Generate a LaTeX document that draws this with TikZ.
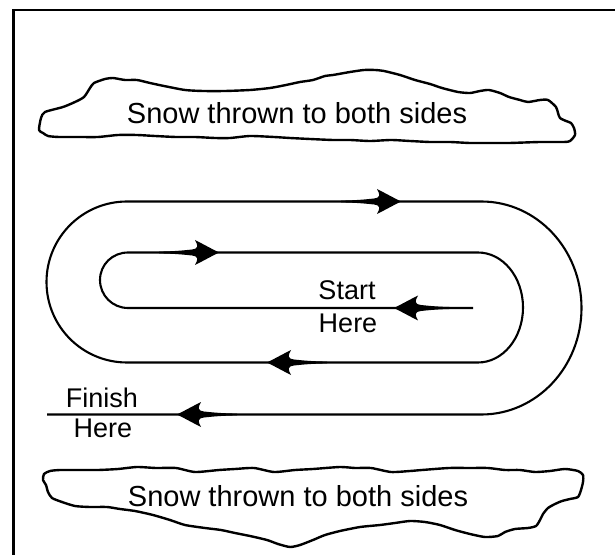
\documentclass[tikz,border=0pt]{standalone}
\usepackage{fontspec}
\setmainfont{Liberation Sans}
\begin{document}
\begin{tikzpicture}[x=0.5pt,y=-0.5pt,
  track/.style={line width=1.05pt, line join=round},
  frame/.style={line width=1.4pt},
  cloud/.style={line width=1.2pt, line join=round},
  lbl/.style={font=\fontsize{13.5}{15}\selectfont, anchor=base, inner sep=0pt},
  snowlbl/.style={font=\fontsize{14.5}{16}\selectfont, anchor=base, inner sep=0pt},
  barb/.pic={\fill (0,0) .. controls (-8,-4) and (-17,-9) .. (-24,-12.5)
      .. controls (-21,-7) and (-20,-4) .. (-27,-3)
      .. controls (-36,-2) and (-46,-1.1) .. (-60,-0.9) -- (-60,0.9)
      .. controls (-46,1.1) and (-36,2) .. (-27,3)
      .. controls (-20,4) and (-21,7) .. (-24,12.5)
      .. controls (-17,9) and (-8,4) .. cycle;}
]
\useasboundingbox (0,0) rectangle (615,555);
% frame
\draw[frame] (13.5,555) -- (13.5,10) -- (615,10);
% top cloud
\draw[cloud] plot[smooth cycle, tension=0.4] coordinates {
(39,130) (41,118) (45,112) (63,107) (75,102) (84,97) (90,88) (94,83) (105,79) (113,78)
(125,80) (137,80) (150,83) (164,86) (185,90) (203,91) (225,91) (250,90) (270,88) (286,85)
(300,82) (313,80) (325,76) (333,75) (350,72) (364,70) (375,70) (384,71) (400,75) (415,80)
(430,84) (442,88) (458,92) (470,93) (480,91) (489,90) (500,93) (509,97) (520,100) (528,102)
(540,100) (548,100) (556,107) (558,113) (560,118) (566,121) (571,123) (574,128) (575,135)
(570,141) (564,142) (540,142) (509,143) (490,143) (470,143) (450,142) (430,142) (410,141)
(391,140) (370,141) (350,140) (333,140) (310,139) (290,138) (274,137) (250,136) (230,138)
(215,138) (195,137) (176,137) (155,136) (137,135) (118,135) (98,137) (80,137) (59,137)
(48,136) (43,133)};
% bottom cloud
\draw[cloud] plot[smooth cycle, tension=0.4] coordinates {
(44,474) (50,471) (60,470) (80,470) (98,470) (118,469) (137,467) (156,468) (176,468)
(195,472) (219,470) (235,469) (254,468) (274,472) (295,470) (313,469) (340,467) (355,468)
(371,468) (391,472) (410,471) (422,470) (449,468) (470,468) (488,468) (505,470) (520,470)
(535,472) (550,471) (565,469) (578,471) (583,475) (583,482) (581,490) (578,497) (570,499)
(562,501) (555,504) (548,508) (543,514) (540,520) (536,526) (528,528) (515,529) (505,532)
(498,536) (485,537) (470,534) (455,530) (440,525) (425,522) (410,521) (395,523) (380,525)
(360,527) (340,531) (325,535) (313,540) (300,545) (290,547) (278,544) (267,540) (250,536)
(235,533) (221,530) (205,528) (185,525) (170,520) (153,515) (135,511) (120,509) (107,507)
(90,507) (75,506) (62,502) (52,498) (48,492) (46,485) (43,480)};
% track
\draw[track] (473,308) -- (128,308)
  .. controls (112.5,308) and (100,295.5) .. (100,280)
  .. controls (100,264.5) and (112.5,252.5) .. (128,252.5) -- (478,252.5)
  .. controls (502.9,252.5) and (523,277.1) .. (523,307.5)
  .. controls (523,337.9) and (502.9,362.5) .. (478,362.5) -- (127,362.5)
  .. controls (82.5,362.5) and (46.5,326.5) .. (46.5,282)
  .. controls (46.5,237.5) and (82.5,201.5) .. (127,201.5) -- (481.5,201.5)
  .. controls (536.7,201.5) and (581.5,249.2) .. (581.5,308)
  .. controls (581.5,366.8) and (536.7,414.5) .. (481.5,414.5) -- (47,414.5);
% arrowheads
\path (401,201.5) pic {barb};
\path (219,252.5) pic {barb};
\path (394,308) pic[rotate=180] {barb};
\path (267,362.5) pic[rotate=180] {barb};
\path (177,414.5) pic[rotate=180] {barb};
% labels
\node[snowlbl] (snowtop) at (297,124) {Snow thrown to both sides};
\node[snowlbl] (snowbot) at (298,506) {Snow thrown to both sides};
\node[lbl] (start) at (347,300) {Start};
\node[lbl] (starthere) at (348,333) {Here};
\node[lbl] (finish) at (102,407) {Finish};
\node[lbl] (finishhere) at (103,437) {Here};
\end{tikzpicture}
\end{document}
